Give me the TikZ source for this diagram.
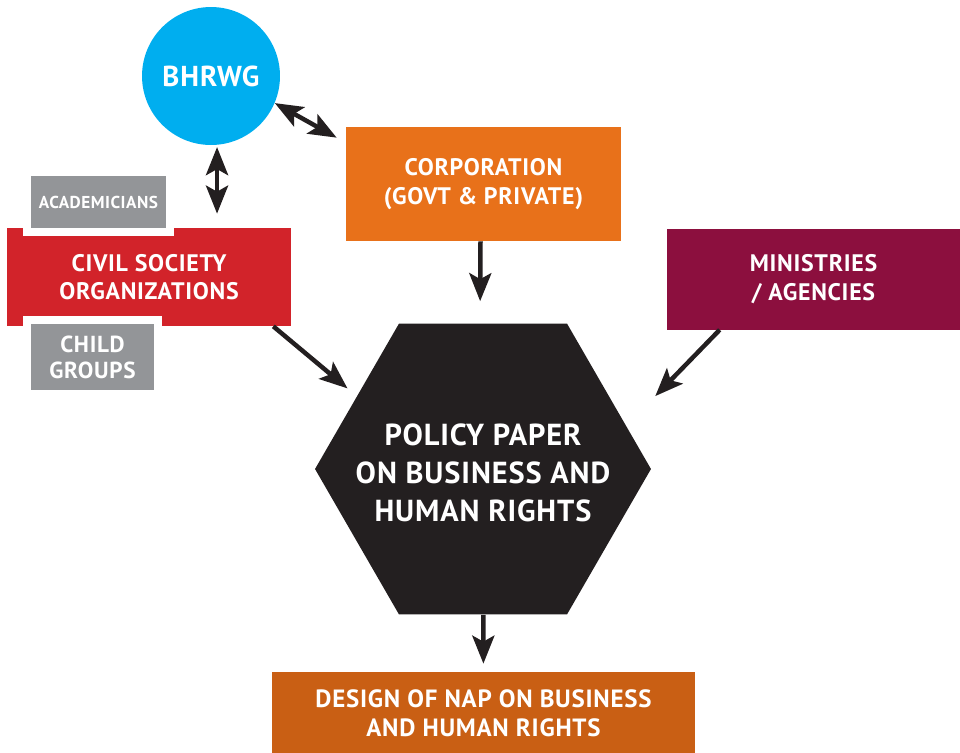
\documentclass[tikz,border=0pt]{standalone}
\usepackage{fontspec}
\setmainfont{PT Sans}[LetterSpace=3]
\usepackage{tikz}
\usetikzlibrary{shapes.geometric, arrows.meta}
\usepackage{xcolor}

\definecolor{bhrwgblue}{HTML}{00AEEF}
\definecolor{corporange}{HTML}{E8711A}
\definecolor{ministryred}{HTML}{8C0F3E}
\definecolor{civilred}{HTML}{D2232A}
\definecolor{sidegray}{HTML}{939598}
\definecolor{hexblack}{HTML}{231F20}
\definecolor{designorange}{HTML}{C95F14}

\begin{document}
\begin{tikzpicture}[x=0.02cm, y=-0.02cm, >={Stealth[length=0.56cm, width=0.44cm, inset=0.12cm]}]
    \useasboundingbox (0, 0) rectangle (960, 752);

    % Define styles for boxes and arrows
    \tikzstyle{box} = [rectangle, inner sep=0pt, text centered, align=center, text=white]
    \tikzstyle{side} = [box, fill=sidegray, draw=white, line width=0.16cm]
    \tikzstyle{arrow} = [line width=0.09cm, draw=hexblack, fill=hexblack, ->]
    \tikzstyle{both arrow} = [line width=0.09cm, draw=hexblack, fill=hexblack, <->]

    % boxes
    \node (bhrwg) [circle, fill=bhrwgblue, minimum size=2.76cm, inner sep=0pt, text=white, font=\bfseries\fontsize{16.4}{19}\selectfont] at (211, 76) {BHRWG};
    \node (corp) [box, fill=corporange, minimum width=5.5cm, minimum height=2.28cm, font=\bfseries\fontsize{13.6}{16.5}\selectfont] at (483.5, 184) {CORPORATION\\(GOVT \& PRIVATE)};
    \node (ministries) [box, fill=ministryred, minimum width=5.86cm, minimum height=2.02cm, font=\bfseries\fontsize{13.6}{16.5}\selectfont] at (813.5, 279) {MINISTRIES\\/ AGENCIES};
    \node (civil) [box, fill=civilred, minimum width=5.68cm, minimum height=1.96cm, font=\bfseries\fontsize{13.6}{16}\selectfont] at (149, 277) {CIVIL SOCIETY\\ORGANIZATIONS};
    \node (academic) [side, minimum width=2.86cm, minimum height=1.2cm, font=\bfseries\fontsize{9.8}{12}\selectfont] at (98.5, 202) {ACADEMICIANS};
    \node (child) [side, minimum width=2.62cm, minimum height=1.48cm, font=\bfseries\fontsize{13.2}{14.7}\selectfont] at (92.5, 357) {CHILD\\GROUPS};
    \node (policy) [regular polygon, regular polygon sides=6, minimum size=6.72cm, inner sep=0pt, fill=hexblack] at (483, 469) {};
    \node (policytext) [box, font=\bfseries\fontsize{17.3}{21.5}\selectfont] at (483, 473) {POLICY PAPER\\ON BUSINESS AND\\HUMAN RIGHTS};
    \node (design) [box, fill=designorange, minimum width=8.46cm, minimum height=1.64cm, font=\bfseries\fontsize{14.2}{16.5}\selectfont] at (483.5, 713) {DESIGN OF NAP ON BUSINESS\\AND HUMAN RIGHTS};

    % Arrows
    \draw [both arrow] (bhrwg.-23) -- ([xshift=-0.18cm, yshift=-0.22cm]corp.north west);
    \draw [both arrow, shorten <=0.04cm, shorten >=0.28cm] (bhrwg.-85) -- (bhrwg.-85 |- civil.north);
    \draw [arrow, shorten >=0.44cm] ([xshift=-0.06cm]corp.south) -- ([xshift=-0.06cm]policy.north);
    \draw [arrow, shorten >=0.24cm] ([xshift=-0.36cm]civil.south east) -- (policy.150);
    \draw [arrow] ([xshift=1.06cm]ministries.south west) -- ([xshift=0.92cm]policy.30);
    \draw [arrow, shorten >=0.16cm] (policy) -- (design);
\end{tikzpicture}
\end{document}
